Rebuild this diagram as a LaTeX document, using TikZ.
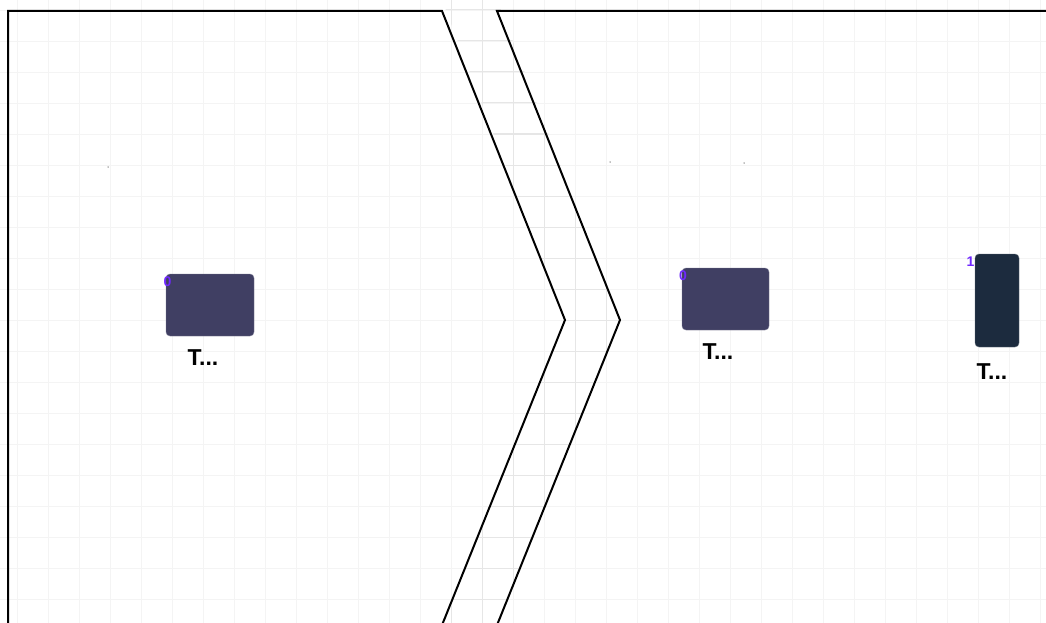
\documentclass[tikz,border=0pt]{standalone}
\usepackage{fontspec}
\setmainfont{Liberation Sans}
\definecolor{boxa}{RGB}{64,63,99}
\definecolor{boxb}{RGB}{28,43,62}
\definecolor{idx}{RGB}{112,40,255}
\definecolor{gridin}{RGB}{244,244,244}
\definecolor{gridout}{RGB}{230,230,230}
\tikzset{
  panel/.style={draw=black, line width=2pt, line join=miter},
  item/.style={rounded corners=4pt, inner sep=0pt, draw=boxa!70!white, line width=0.4pt},
  idxlabel/.style={text=idx, font=\fontsize{14}{14}\selectfont\bfseries, inner sep=0pt},
  caption/.style={font=\fontsize{23}{23}\selectfont\bfseries, inner sep=0pt},
  dotmark/.style={fill=gray, draw=none, inner sep=0pt, minimum size=1.5pt, circle}
}
\begin{document}
\begin{tikzpicture}[x=1pt,y=-1pt]
\useasboundingbox (0,0) rectangle (1046,623);
\fill[white] (0,0) rectangle (1046,623);
% faint grid everywhere
\foreach \gx in {17,48,...,1046} \draw[gridin, line width=0.8pt] (\gx,0) -- (\gx,623);
\foreach \gy in {10,41,...,623} \draw[gridin, line width=0.8pt] (0,\gy) -- (1046,\gy);
% stronger grid in the gap between panels
\begin{scope}
\clip (442,0) -- (565,320) -- (436,640) -- (491,640) -- (620,320) -- (497,0) -- cycle;
\foreach \gx in {17,48,...,1046} \draw[gridout, line width=1pt] (\gx,0) -- (\gx,623);
\foreach \gy in {10,41,...,623} \draw[gridout, line width=1pt] (0,\gy) -- (1046,\gy);
\end{scope}
% panels
\path[panel] (8,640) -- (8,11) -- (442,11) -- (565,320) -- (436,640);
\path[panel] (1060,11) -- (497,11) -- (620,320) -- (491,640);
% tiny dots
\node[dotmark] (d1) at (108,167) {};
\node[dotmark] (d2) at (610,162) {};
\node[dotmark] (d3) at (744,163) {};
% items
\node[item, fill=boxa, minimum width=88pt, minimum height=62pt] (n1) at (210,305) {};
\node[idxlabel] (n1i) at (167.5,282) {0};
\node[caption] (n1c) at (203,358) {T...};
\node[item, fill=boxa, minimum width=87pt, minimum height=62pt] (n2) at (725.5,299) {};
\node[idxlabel] (n2i) at (683,276) {0};
\node[caption] (n2c) at (718,352) {T...};
\node[item, fill=boxb, draw=boxb!70!white, minimum width=44pt, minimum height=93pt] (n3) at (997,300.5) {};
\node[idxlabel] (n3i) at (970.5,262) {1};
\node[caption] (n3c) at (992,372) {T...};
\end{tikzpicture}
\end{document}
